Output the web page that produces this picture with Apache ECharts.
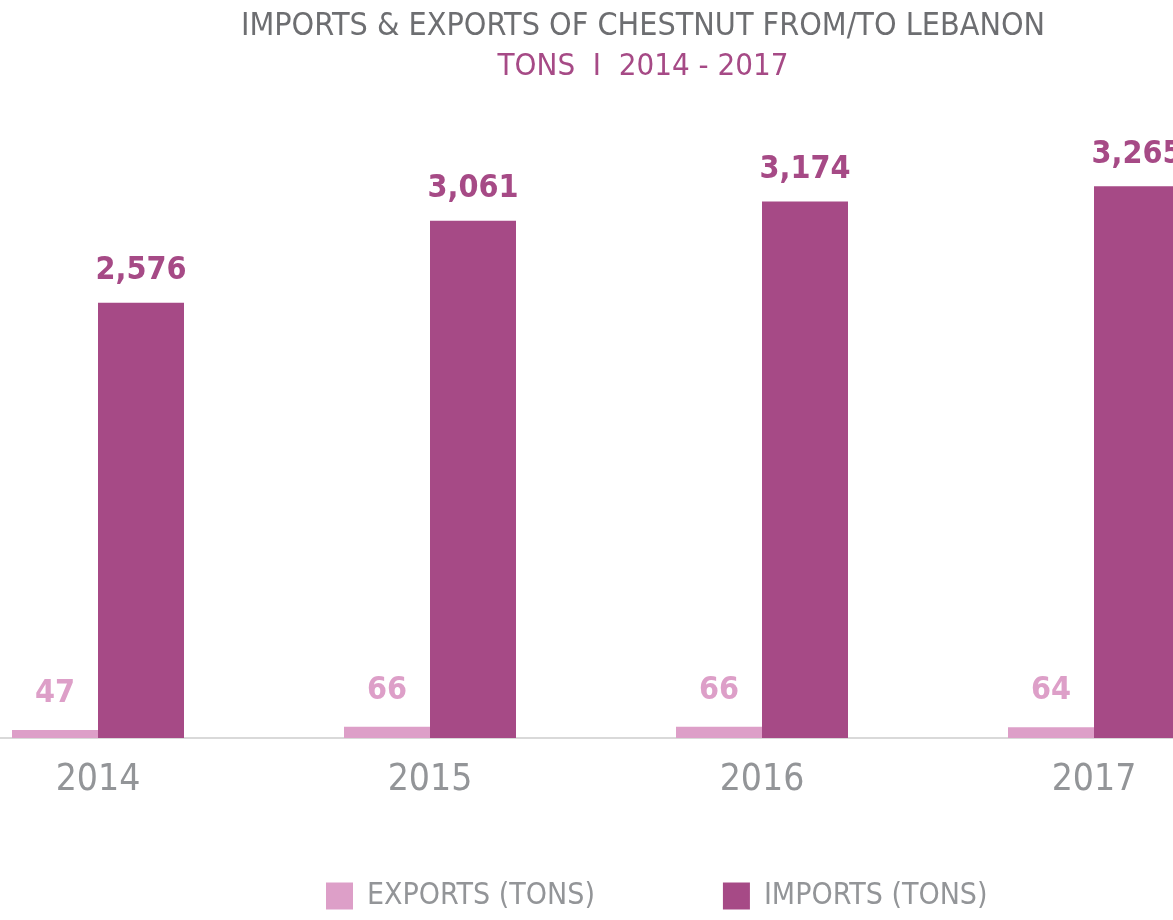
<!DOCTYPE html>
<html>
<head>
<meta charset="utf-8">
<script src="https://cdn.jsdelivr.net/npm/echarts@6/dist/echarts.min.js"></script>
<style>
  html, body { margin: 0; padding: 0; background: #fff; }
  #chart { width: 1173px; height: 920px; }
</style>
</head>
<body>
<div id="chart"></div>
<script>
var years = ['2014', '2015', '2016', '2017'];
var exportsTons = [47, 66, 66, 64];
var importsTons = [2576, 3061, 3174, 3265];

var chart = echarts.init(document.getElementById('chart'));
var narrow = '"Liberation Sans Narrow", "DejaVu Sans Condensed", sans-serif';

var option = {
    animation: false,
    title: {
        text: 'IMPORTS & EXPORTS OF CHESTNUT FROM/TO LEBANON',
        subtext: 'TONS  I  2014 - 2017',
        left: 638,
        textAlign: 'center',
        top: 6,
        itemGap: 8,
        textStyle: { fontFamily: narrow, fontSize: 32, fontWeight: 'normal', color: '#6d6e71' },
        subtextStyle: { fontFamily: narrow, fontSize: 31, color: '#a64a86' }
    },
    legend: {
        bottom: 4,
        left: 321,
        itemWidth: 27,
        itemHeight: 27,
        itemGap: 128,
        icon: 'rect',
        textStyle: { fontFamily: narrow, fontSize: 30, color: '#939598', padding: [0, 0, 0, 9] },
        data: ['EXPORTS (TONS)', 'IMPORTS (TONS)']
    },
    grid: { left: -68, width: 1328, top: 62, height: 676, outerBoundsMode: 'none', containLabel: false },
    xAxis: {
        type: 'category',
        data: years,
        axisTick: { show: false },
        axisLine: { lineStyle: { color: '#d9d9d9', width: 2 } },
        axisLabel: { fontFamily: narrow, fontSize: 37, color: '#939598', margin: 24 }
    },
    yAxis: {
        type: 'value',
        min: 0,
        max: 4000,
        show: false,
        splitLine: { show: false }
    },
    series: [{
        name: 'EXPORTS (TONS)',
        type: 'bar',
        data: exportsTons,
        barWidth: 86,
        barGap: '0%',
        itemStyle: { color: '#dd9fc8' },
        label: {
            show: true, position: 'top', distance: 20,
            fontFamily: narrow, fontSize: 32, fontWeight: 'bold', color: '#dd9fc8'
        }
    }, {
        name: 'IMPORTS (TONS)',
        type: 'bar',
        data: importsTons,
        barWidth: 86,
        itemStyle: { color: '#a64a86' },
        label: {
            show: true, position: 'top', distance: 16,
            fontFamily: narrow, fontSize: 32, fontWeight: 'bold', color: '#a64a86',
            formatter: function (p) { return p.value.toLocaleString('en-US'); }
        }
    }]
};
chart.setOption(option);
</script>
</body>
</html>
